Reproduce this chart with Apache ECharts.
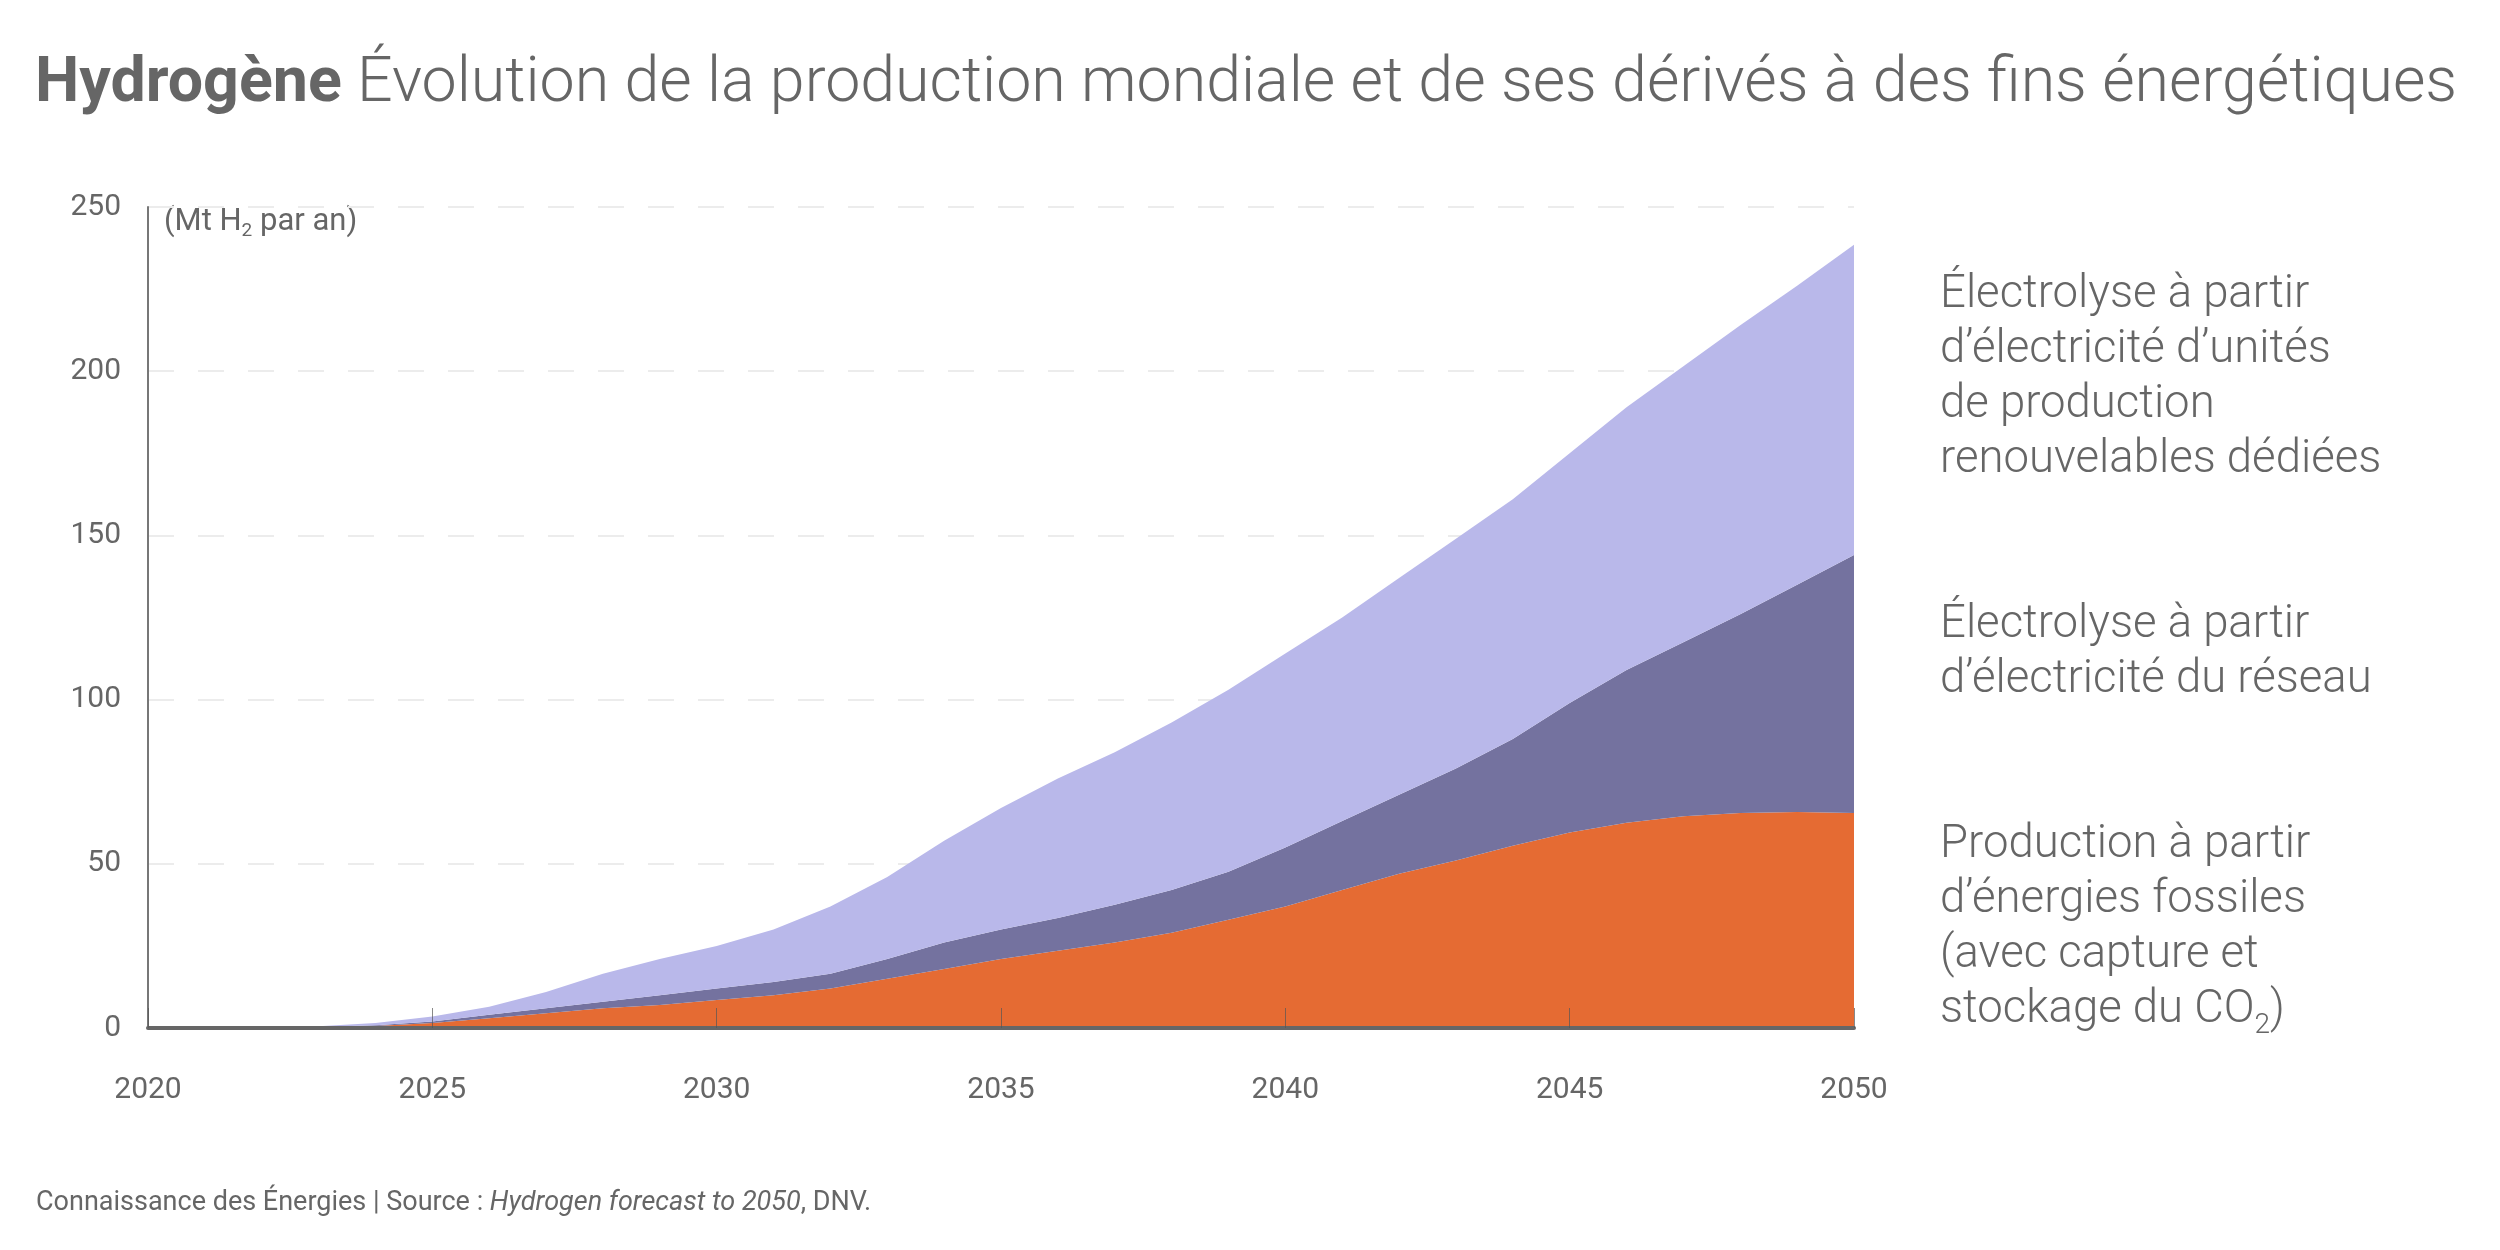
<!DOCTYPE html>
<html>
<head>
<meta charset="utf-8">
<script src="https://cdn.jsdelivr.net/npm/echarts@6/dist/echarts.min.js"></script>
<style>
html,body{margin:0;padding:0;background:#fff;}
#chart{width:2500px;height:1250px;}
</style>
</head>
<body>
<div id="chart"></div>
<script>
const years = [];
for (let y = 2020; y <= 2050; y++) years.push(String(y));

const fossil = [0, 0, 0.05, 0.2, 0.6, 1.5, 3, 4.5, 6, 7, 8.5, 10, 12, 15, 18, 21, 23.5, 26, 29, 33, 37, 42, 47, 51, 55.5, 59.5, 62.5, 64.5, 65.5, 65.8, 65.5];
const grid = [0, 0, 0.02, 0.1, 0.2, 0.5, 1, 1.5, 2, 3, 3.5, 4, 4.5, 6, 8, 9, 10, 11.5, 13, 14.6, 18, 21, 24, 28, 32.5, 39.5, 46.5, 53, 60.5, 69.2, 78.5];
const renew = [0, 0, 0.13, 0.2, 0.7, 1.5, 2.5, 5, 8.5, 11, 13, 16, 20.5, 25, 31, 37, 42.5, 46.5, 51, 55.4, 59, 62, 66, 70, 73, 76, 80, 84, 88, 91, 94.5];

const yTicks = [0, 50, 100, 150, 200, 250];
const xTickStep = 5;

const labelRenew = "Électrolyse à partir\nd’électricité d’unités\nde production\nrenouvelables dédiées";
const labelGrid = "Électrolyse à partir\nd’électricité du réseau";
const labelFossil = "{a|Production à partir}\n{a|d’énergies fossiles}\n{a|(avec capture et}\n{a|stockage du CO}{s|2}{a|)}";

const colors = { fossil: '#E56B33', grid: '#74729F', renew: '#B9B8EA' };
const textColor = '#666666';
const FONT = 'Roboto, "Noto Sans", sans-serif';

const chart = echarts.init(document.getElementById('chart'), null, { renderer: 'canvas' });

function areaSeries(name, data, color) {
  return {
    name: name, type: 'line', stack: 'total', data: data,
    showSymbol: false, symbol: 'none', smooth: false,
    lineStyle: { width: 0 }, areaStyle: { color: color, opacity: 1 },
    itemStyle: { color: color }, emphasis: { disabled: true }, z: 2
  };
}

chart.setOption({
  animation: false,
  backgroundColor: '#ffffff',
  textStyle: { fontFamily: FONT },
  grid: { left: 148, right: 646, top: 207, bottom: 222, containLabel: false },
  xAxis: {
    type: 'category', data: years, boundaryGap: false, z: 10,
    axisLine: { show: true, lineStyle: { color: '#666666', width: 4 } },
    axisTick: { show: true, inside: true, length: 20, interval: xTickStep - 1, lineStyle: { color: '#555555', width: 1, opacity: 0.7 } },
    axisLabel: { interval: xTickStep - 1, color: textColor, fontSize: 30, fontFamily: FONT, margin: 47 },
    splitLine: { show: false }
  },
  yAxis: {
    type: 'value', min: yTicks[0], max: yTicks[yTicks.length - 1], interval: 50,
    axisLine: { show: true, lineStyle: { color: '#777777', width: 2 } },
    axisTick: { show: false },
    axisLabel: { color: textColor, fontSize: 30, fontFamily: FONT, margin: 27 },
    splitLine: { show: true, lineStyle: { color: '#ececec', width: 2, type: [26, 24] } }
  },
  series: [
    areaSeries('Production à partir d’énergies fossiles', fossil, colors.fossil),
    areaSeries('Électrolyse à partir d’électricité du réseau', grid, colors.grid),
    areaSeries('Électrolyse renouvelables dédiées', renew, colors.renew)
  ],
  graphic: [
    {
      type: 'text', left: 35, top: 54,
      style: {
        text: '{b|Hydrogène}{l|\u00A0Évolution de la production mondiale et de ses dérivés à des fins énergétiques}',
        verticalAlign: 'middle',
        rich: {
          b: { fontSize: 62.7, fontWeight: 'bold', fill: textColor, fontFamily: FONT },
          l: { fontSize: 62.7, fontWeight: 300, fill: textColor, fontFamily: FONT }
        }
      }
    },
    {
      type: 'text', left: 164, top: 207,
      style: {
        text: '{a|(Mt H}{s|2}{a| par an)}',
        verticalAlign: 'middle',
        rich: {
          a: { fontSize: 31, fill: textColor, fontFamily: FONT },
          s: { fontSize: 19, fill: textColor, fontFamily: FONT, padding: [18, 0, 0, 0] }
        }
      }
    },
    {
      type: 'text', left: 1940, top: 268,
      style: { text: labelRenew, fontSize: 45.5, fontWeight: 300, fill: textColor, fontFamily: FONT, lineHeight: 55 }
    },
    {
      type: 'text', left: 1940, top: 598,
      style: { text: labelGrid, fontSize: 45.5, fontWeight: 300, fill: textColor, fontFamily: FONT, lineHeight: 55 }
    },
    {
      type: 'text', left: 1940, top: 823,
      style: {
        text: labelFossil,
        rich: {
          a: { fontSize: 45.5, fontWeight: 300, fill: textColor, fontFamily: FONT, lineHeight: 55 },
          s: { fontSize: 28, fontWeight: 300, fill: textColor, fontFamily: FONT, lineHeight: 55, padding: [30, 0, 0, 0] }
        }
      }
    },
    {
      type: 'text', left: 36, top: 1190,
      style: {
        text: '{a|Connaissance des Énergies | Source : }{i|Hydrogen forecast to 2050}{a|, DNV.}',
        verticalAlign: 'middle',
        rich: {
          a: { fontSize: 27, fill: textColor, fontFamily: FONT },
          i: { fontSize: 27, fontStyle: 'italic', fill: textColor, fontFamily: FONT }
        }
      }
    }
  ]
});
</script>
</body>
</html>
